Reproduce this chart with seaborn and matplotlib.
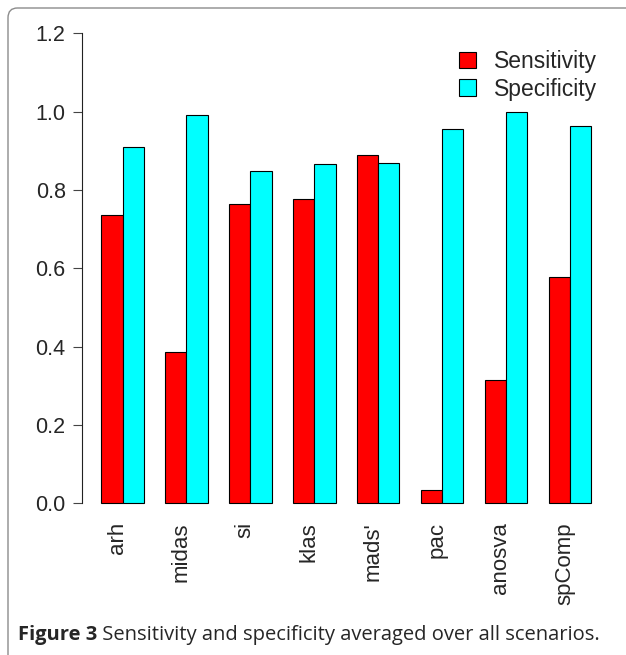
import pandas as pd
import numpy as np
import matplotlib.pyplot as plt
from matplotlib.patches import FancyBboxPatch
import seaborn as sns

# values
methods = ['arh', 'midas', 'si', 'klas', "mads'", 'pac', 'anosva', 'spComp']
sensitivity = [0.737, 0.385, 0.764, 0.776, 0.888, 0.033, 0.315, 0.577]
specificity = [0.910, 0.992, 0.849, 0.866, 0.868, 0.955, 0.999, 0.962]
y_ticks = [0.0, 0.2, 0.4, 0.6, 0.8, 1.0, 1.2]

df = pd.DataFrame({
    'method': methods * 2,
    'metric': ['Sensitivity'] * len(methods) + ['Specificity'] * len(methods),
    'value': sensitivity + specificity,
})

sns.set_style('white')
plt.rcParams['font.family'] = ['Liberation Sans', 'DejaVu Sans']

fig = plt.figure(figsize=(6.26, 6.55), dpi=100)
ax = fig.add_axes([0.1305, 0.2029, 0.8452, 0.7751])

sns.barplot(data=df, x='method', y='value', hue='metric', order=methods,
            palette={'Sensitivity': '#ff0000', 'Specificity': '#00ffff'},
            width=2/3, errorbar=None, edgecolor='black', linewidth=0.8,
            saturation=1, ax=ax)

# R barplot look
ax.set_xlim(-0.64, 7.64)
ax.set_ylim(-0.048, 1.248)
ax.set_xlabel('')
ax.set_ylabel('')
for s in ['top', 'right', 'bottom']:
    ax.spines[s].set_visible(False)
ax.spines['left'].set_bounds(0, 1.2)
ax.spines['left'].set_linewidth(0.8)
ax.spines['left'].set_color('#222222')
ax.set_yticks(y_ticks)
ax.set_yticklabels([f'{v:.1f}' for v in y_ticks])
ax.tick_params(axis='y', left=True, length=6.5, width=0.8, pad=5, labelsize=15.5,
               color='#444444')
ax.tick_params(axis='x', bottom=False, length=0, pad=0, labelsize=16)
for lab in ax.get_xticklabels():
    lab.set_rotation(90)
    lab.set_rotation_mode('anchor')
    lab.set_ha('right')
    lab.set_va('baseline')

ax.legend(loc='upper right', bbox_to_anchor=(0.975, 0.93), frameon=False,
          fontsize=16.5, handlelength=0.75, handleheight=0.7, handletextpad=0.8,
          labelspacing=0.2, borderpad=0, borderaxespad=0)

# journal frame and caption
frame = FancyBboxPatch((8 / 626, -0.1), 1.2, 1.1 - 8 / 655,
                       boxstyle='round,pad=0,rounding_size=0.015',
                       transform=fig.transFigure, facecolor='none',
                       edgecolor='#8c8c8c', linewidth=1.0, clip_on=False)
fig.patches.append(frame)

t1 = fig.text(18 / 626, 0.0229, 'Figure 3', fontsize=14.5, fontweight='bold',
              family=['Open Sans', 'DejaVu Sans'], va='baseline')
ax.annotate(' Sensitivity and specificity averaged over all scenarios.',
            xy=(1, 0), xycoords=t1, va='bottom', fontsize=14.5,
            family=['Open Sans', 'DejaVu Sans'], annotation_clip=False)

plt.savefig('out.png', dpi=100)
